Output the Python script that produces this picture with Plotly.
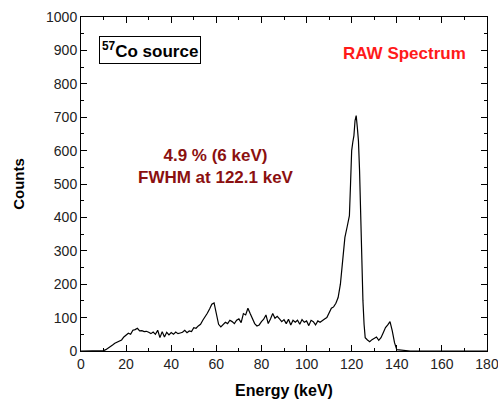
import plotly.graph_objects as go

energy = list(range(0, 119)) + [119, 119.5, 120, 120.5, 121, 121.5, 122, 122.5, 123, 123.5, 124, 124.5, 125, 125.5] + list(range(126, 181))

counts_low = [0, 0, 0, 0, 0, 0, 0, 0, 0, 0,          # 0-9
              1, 4, 8, 12, 18, 23, 26, 30, 33, 42,   # 10-19
              48, 53, 50, 62, 64, 68, 60, 61, 58, 59,  # 20-29
              56, 52, 57, 50, 62, 40, 58, 42, 56, 48,  # 30-39
              55, 50, 57, 52, 54, 56, 62, 55, 60, 58,  # 40-49
              70, 68, 75, 80, 92, 102, 113, 126, 140, 144,  # 50-59
              112, 80, 72, 80, 86, 82, 92, 88, 82, 92,  # 60-69
              96, 85, 112, 108, 128, 112, 98, 82, 75, 78,  # 70-79
              88, 95, 108, 82, 96, 112, 98, 104, 96, 88,  # 80-89
              94, 82, 95, 78, 92, 86, 92, 80, 94, 86,  # 90-99
              90, 76, 92, 88, 78, 90, 86, 92, 96, 100,  # 100-109
              112, 128, 132, 143, 160, 200, 270, 340, 372]  # 110-118
counts_peak = [405, 500, 600, 625, 645, 690, 705, 670, 630, 540, 400, 280, 150, 80]  # 119-125.5
counts_high = [40, 33, 28, 34, 38, 42, 32, 40, 55, 70,  # 126-135
               78, 88, 60, 25, 4, 3, 2, 2, 1, 0,        # 136-145
               0, 0, 0, 0, 0, 0, 0, 0, 0, 0,            # 146-155
               0, 0, 0, 0, 0, 0, 0, 0, 0, 0,            # 156-165
               0, 0, 0, 0, 0, 0, 0, 0, 0, 0,            # 166-175
               0, 0, 0, 0, 0]                            # 176-180
counts = counts_low + counts_peak + counts_high

x_ticks = [0, 20, 40, 60, 80, 100, 120, 140, 160, 180]
y_ticks = [0, 100, 200, 300, 400, 500, 600, 700, 800, 900, 1000]

fig = go.Figure()
fig.add_trace(go.Scatter(x=energy, y=counts, mode="lines",
                         line=dict(color="black", width=1.2), showlegend=False))

font_family = "Liberation Sans, Arial, sans-serif"
axis_common = dict(showline=True, linecolor="black", linewidth=1, mirror="allticks",
                   ticks="inside", ticklen=6, tickcolor="black", tickwidth=1,
                   showgrid=False, zeroline=False, automargin=False,
                   ticklabeloverflow="allow",
                   tickfont=dict(family=font_family, size=14, color="#222"))

fig.update_xaxes(range=[0, 180], tickvals=x_ticks,
                 minor=dict(ticks="inside", dtick=10, ticklen=3, tickcolor="black", showgrid=False),
                 title=dict(text="<b>Energy (keV)</b>", font=dict(family=font_family, size=16, color="black"), standoff=14),
                 **axis_common)
fig.update_yaxes(range=[0, 1000], tickvals=y_ticks,
                 minor=dict(ticks="inside", dtick=50, ticklen=3, tickcolor="black", showgrid=False),
                 title=dict(text="<b>Counts</b>", font=dict(family=font_family, size=15, color="black"), standoff=17),
                 **axis_common)

fig.add_annotation(x=0.044, y=0.90, xref="paper", yref="paper", xanchor="left", yanchor="middle",
                   text="<b><sup>57</sup>Co source</b>", showarrow=False,
                   font=dict(family=font_family, size=17, color="black"),
                   bordercolor="black", borderwidth=1, borderpad=2, bgcolor="white")
fig.add_annotation(x=0.953, y=0.892, xref="paper", yref="paper", xanchor="right", yanchor="middle",
                   text="<b>RAW Spectrum</b>", showarrow=False,
                   font=dict(family=font_family, size=17, color="#ff1a1a"))
fig.add_annotation(x=0.3325, y=0.552, xref="paper", yref="paper", xanchor="center", yanchor="middle",
                   text="<b>4.9 % (6 keV)<br>FWHM at 122.1 keV</b>", showarrow=False,
                   font=dict(family=font_family, size=17, color="#8b1010"))

fig.update_layout(width=498, height=400, margin=dict(l=81, r=11, t=17, b=49, autoexpand=False),
                  plot_bgcolor="white", paper_bgcolor="white",
                  font=dict(family=font_family))

fig.write_html("out.html", config={"displayModeBar": False},
               post_script="document.body.style.margin='0';document.body.style.overflow='hidden';")
